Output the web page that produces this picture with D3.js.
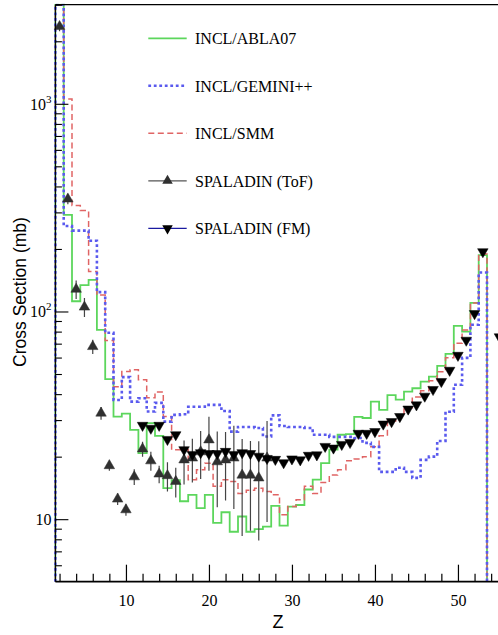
<!DOCTYPE html>
<html><head><meta charset="utf-8">
<script src="https://cdn.jsdelivr.net/npm/d3@7/dist/d3.min.js"></script>
<style>body{margin:0;background:#fff}svg{display:block}</style>
</head><body><svg id="c" width="498" height="635"></svg>
<script>
// ---- data ----
const binZ = [2,3,4,5,6,7,8,9,10,11,12,13,14,15,16,17,18,19,20,21,22,23,24,25,26,27,28,29,30,31,32,33,34,35,36,37,38,39,40,41,42,43,44,45,46,47,48,49,50,51,52,53];
const abla07 = [3000,292,112,134,142,81.5,47.2,31.2,32.2,26.9,20.8,29.0,25.2,14.1,15.4,12.2,13.1,11.3,13.1,9.6,10.8,8.7,10.3,8.7,8.95,9.2,11.6,9.3,11.5,11.7,13.9,15.5,18.6,21.6,25.5,25.7,31.1,30.7,36.8,33.6,39.6,37.6,41.1,42.7,46.0,48.6,54.7,62.5,85.3,80.0,110,187];
const geminiPP = [3000,258,245,245,219,124,79,37.5,48.3,36.8,38.2,33,36.3,29.5,31.8,32,34.8,34.8,35.5,35.5,33.2,26.4,27.8,27.8,27.5,25.0,31.6,28.1,27.8,27.8,27.5,25.5,25.5,24.9,24.9,24.9,24.6,23.3,22.3,16.9,16.9,17.7,16.9,15.8,19.3,20.0,23.8,32.9,44.4,59.8,86.3,154];
const smm = [3000,1056,324,306,155.6,120,72.4,43.4,51.4,52.4,46.9,38.4,41,31.2,21.6,21.6,15.5,17.3,18.6,14.4,15.5,15.2,13.3,13.8,14.1,13.6,13.1,10.5,11.5,12.4,14.4,13.3,15.0,16.3,17.3,19.1,19.5,20.0,22.3,25.2,29.7,31.1,34.4,38.8,41.5,46.4,51.2,59.8,70.3,81.5,110,189];
const tofZ = [2,3,4,5,6,7,8,9,10,11,12,13,14,15,16,17,18,19,20,21,22,23,24,25,26,27];
const tofVal = [2355,348,128,105,67.8,32.4,18.1,12.5,11.1,16.0,21.8,19.1,16.5,16.2,15.2,19.3,19.7,21.1,24.1,18.9,19.3,19.7,16.3,16.3,15.8,19.7];
const tofErr = [120,20,13,11,5.3,2.3,1.0,0.8,0.7,1.4,1.8,2.0,1.6,2.6,2.5,4.6,4.7,5.5,7,7.5,7,8.5,8,7.5,7.9,10];
const fmZ = [12,13,14,15,16,17,18,19,20,21,22,23,24,25,26,27,28,29,30,31,32,33,34,35,36,37,38,39,40,41,42,43,44,45,46,47,48,49,50,51,52,53,55];
const fmVal = [28.3,27.4,28.3,24.2,25.5,21.6,20.5,20.9,20.7,20.7,21.2,20.5,20.9,20.7,20.1,19.6,19.4,18.7,19.5,19.3,20.3,20.4,22.4,22.0,22.9,23.4,25.9,25.9,26.4,28.7,29.5,31.2,33.9,35.5,39.1,42.1,46.0,52.1,61.5,72.7,97.7,194,75.5];
const xMajorTicks = [10,20,30,40,50];
const xMinorTicks = [2,4,6,8,12,14,16,18,22,24,26,28,32,34,36,38,42,44,46,48,52,54,56];
const yMajorTicks = [10,100,1000];
const yMajorExp = ["", "2", "3"];
const yMinorTicks = [6,7,8,9,20,30,40,50,60,70,80,90,200,300,400,500,600,700,800,900,2000,3000];
const legendNames = ["INCL/ABLA07","INCL/GEMINI++","INCL/SMM","SPALADIN (ToF)","SPALADIN (FM)"];

// ---- scales ----
const L = 55.4, T = 4.7, B = 581.7, W = 498;
const x = d3.scaleLinear().domain([1.5, 57]).range([L, L + 8.3 * 55.5]);
const y = d3.scaleLog().domain([5, 3000]).range([B, T]);
const yMin = 5;

const svg = d3.select("#c");
svg.append("defs").append("clipPath").attr("id","clip")
  .append("rect").attr("x", L - 2).attr("y", T - 1).attr("width", W).attr("height", B - T + 1);

const plot = svg.append("g").attr("clip-path","url(#clip)");

function histPoints(vals){
  const pts = [[binZ[0] - 0.5, yMin]];
  binZ.forEach((z,i) => { pts.push([z - 0.5, vals[i]]); pts.push([z + 0.5, vals[i]]); });
  pts.push([binZ[binZ.length-1] + 0.5, yMin]);
  return pts;
}
const line = d3.line().x(d => x(d[0])).y(d => y(Math.max(yMin, d[1])));

const styles = [
  {data: abla07, color:"#5cd65c", w:1.8, dash:null},
  {data: smm, color:"#e06464", w:1.5, dash:"6,3.5"},
  {data: geminiPP, color:"#5a5aee", w:2.6, dash:"2.8,2.7"}
];
styles.forEach(s => {
  plot.append("path").attr("d", line(histPoints(s.data)))
    .attr("fill","none").attr("stroke", s.color).attr("stroke-width", s.w)
    .attr("stroke-dasharray", s.dash);
});

// ToF error bars + markers
const tri = d3.symbol().type(d3.symbolTriangle).size(48);
tofZ.forEach((z,i) => {
  const v = tofVal[i], e = tofErr[i];
  plot.append("line").attr("x1", x(z)).attr("x2", x(z))
    .attr("y1", y(v + e)).attr("y2", y(Math.max(yMin, v - e)))
    .attr("stroke","#444").attr("stroke-width",1.2);
});
tofZ.forEach((z,i) => {
  plot.append("path").attr("d", tri())
    .attr("transform", `translate(${x(z)},${y(tofVal[i])})`)
    .attr("fill","#303030").attr("stroke","#303030").attr("stroke-width",0.5);
});
fmZ.forEach((z,i) => {
  plot.append("path").attr("d", tri())
    .attr("transform", `translate(${x(z)},${y(fmVal[i])}) rotate(180)`)
    .attr("fill","#000").attr("stroke","#000").attr("stroke-width",0.5);
});

// ---- axes ----
const axX = svg.append("g").attr("transform", `translate(0,${B})`);
axX.call(d3.axisBottom(x).tickValues(xMinorTicks).tickSize(-8).tickFormat(""));
const axX2 = svg.append("g").attr("transform", `translate(0,${B})`);
axX2.call(d3.axisBottom(x).tickValues(xMajorTicks).tickSize(-17).tickFormat(d => String(d)));
[axX, axX2].forEach(a => { a.select(".domain").remove(); a.selectAll("line").attr("stroke","#000").attr("stroke-width",1.2); });
axX2.selectAll("text").attr("y", 24).attr("dy", 0)
  .attr("font-family","'Liberation Serif','Times New Roman',serif").attr("font-size",16).attr("fill","#000");

const axY = svg.append("g").attr("transform", `translate(${L},0)`);
axY.call(d3.axisLeft(y).tickValues(yMinorTicks).tickSize(-6.5).tickFormat(""));
const axY2 = svg.append("g").attr("transform", `translate(${L},0)`);
axY2.call(d3.axisLeft(y).tickValues(yMajorTicks).tickSize(-13).tickFormat(""));
[axY, axY2].forEach(a => { a.select(".domain").remove(); a.selectAll("line").attr("stroke","#000").attr("stroke-width",1.1); });

yMajorTicks.forEach((v,i) => {
  const t = svg.append("text").attr("x", 51.5).attr("y", y(v) + 6).attr("text-anchor","end")
    .attr("font-family","'Liberation Serif','Times New Roman',serif").attr("font-size",16).attr("fill","#000");
  t.append("tspan").text("10");
  if (yMajorExp[i]) t.append("tspan").attr("font-size",11).attr("dy",-7).text(yMajorExp[i]);
});

svg.append("line").attr("x1",L).attr("x2",L).attr("y1",T).attr("y2",B).attr("stroke","#000").attr("stroke-width",1.1);
svg.append("line").attr("x1",L).attr("x2",W).attr("y1",B).attr("y2",B).attr("stroke","#000").attr("stroke-width",1.8);
svg.append("line").attr("x1",L).attr("x2",W).attr("y1",T).attr("y2",T).attr("stroke","#000").attr("stroke-width",1.2);

svg.append("text").attr("transform","translate(26,292) rotate(-90)").attr("text-anchor","middle")
  .attr("font-family","'Liberation Sans',Arial,sans-serif").attr("font-size",17.5).attr("fill","#000")
  .text("Cross Section (mb)");
svg.append("text").attr("x",278).attr("y",628).attr("text-anchor","middle")
  .attr("font-family","'Liberation Sans',Arial,sans-serif").attr("font-size",18).attr("fill","#000")
  .text("Z");

// ---- legend ----
const legY0 = 38.3, legDy = 47.5, lx1 = 148.3, lx2 = 186.7, tx = 195;
const legStyles = [
  {color:"#5cd65c", w:1.8, dash:null, mark:null},
  {color:"#5a5aee", w:2.6, dash:"2.8,2.7", mark:null},
  {color:"#e06464", w:1.5, dash:"6,3.5", mark:null},
  {color:"#555", w:1.2, dash:null, mark:"up"},
  {color:"#1a1aa0", w:1.2, dash:null, mark:"down"}
];
legendNames.forEach((name,i) => {
  const ly = legY0 + i * legDy, s = legStyles[i];
  svg.append("line").attr("x1",lx1).attr("x2",lx2).attr("y1",ly).attr("y2",ly)
    .attr("stroke",s.color).attr("stroke-width",s.w).attr("stroke-dasharray",s.dash);
  if (s.mark) {
    svg.append("path").attr("d", tri())
      .attr("transform", `translate(${(lx1+lx2)/2},${ly})` + (s.mark === "down" ? " rotate(180)" : ""))
      .attr("fill", s.mark === "down" ? "#000" : "#303030");
  }
  svg.append("text").attr("x",tx).attr("y",ly + 6).attr("font-family","'Liberation Serif','Times New Roman',serif")
    .attr("font-size",16).attr("fill","#000").text(name);
});
</script></body></html>
